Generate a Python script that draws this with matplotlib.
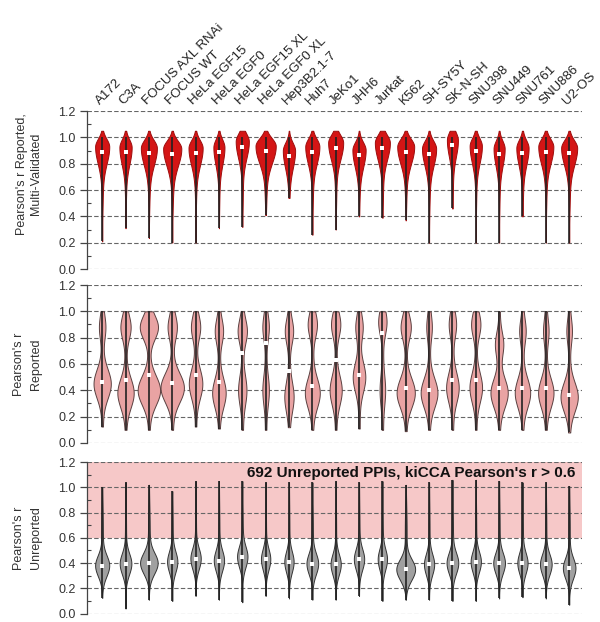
import numpy as np
import matplotlib
matplotlib.use("Agg")
import matplotlib.pyplot as plt
from matplotlib.ticker import MultipleLocator

plt.rcParams['font.family'] = ['Liberation Sans', 'DejaVu Sans']

cell_lines = ["A172", "C3A", "FOCUS AXL RNAi", "FOCUS WT", "HeLa EGF15", "HeLa EGF0",
              "HeLa EGF15 XL", "HeLa EGF0 XL", "Hep3B2.1-7", "Huh7", "JeKo1", "JHH6",
              "Jurkat", "K562", "SH-SY5Y", "SK-N-SH", "SNU398", "SNU449", "SNU761",
              "SNU886", "U2-OS"]

# top panel: reported, multi-validated
mv_median = [0.89, 0.885, 0.88, 0.875, 0.88, 0.885, 0.93, 0.895, 0.86, 0.89, 0.92,
             0.865, 0.92, 0.89, 0.875, 0.94, 0.895, 0.875, 0.88, 0.89, 0.88]
mv_min = [0.21, 0.31, 0.235, 0.20, 0.20, 0.31, 0.32, 0.41, 0.54, 0.26, 0.30,
          0.40, 0.39, 0.37, 0.20, 0.46, 0.20, 0.20, 0.40, 0.20, 0.20]
mv_max = [1.05, 1.05, 1.05, 1.05, 1.05, 1.05, 1.05, 1.05, 1.05, 1.05, 1.05,
          1.05, 1.05, 1.05, 1.05, 1.05, 1.05, 1.05, 1.05, 1.05, 1.05]
mv_width = [0.30, 0.26, 0.34, 0.385, 0.30, 0.235, 0.28, 0.43, 0.26, 0.30, 0.32,
            0.28, 0.32, 0.36, 0.30, 0.235, 0.26, 0.235, 0.26, 0.32, 0.34]

# middle panel: reported
rep_median = [0.465, 0.48, 0.52, 0.455, 0.52, 0.46, 0.68, 0.76, 0.545, 0.43, 0.63,
              0.52, 0.835, 0.415, 0.40, 0.48, 0.48, 0.42, 0.42, 0.42, 0.365]
rep_min = [0.125, 0.10, 0.10, 0.10, 0.125, 0.11, 0.10, 0.10, 0.12, 0.10, 0.10,
           0.11, 0.10, 0.09, 0.10, 0.10, 0.10, 0.10, 0.10, 0.10, 0.08]
rep_max = [1.0, 1.0, 1.0, 1.0, 1.0, 1.0, 1.0, 1.0, 1.0, 1.0, 1.0,
           1.0, 1.0, 1.0, 1.0, 1.0, 1.0, 1.0, 1.0, 1.0, 1.0]
rep_low_peak = [0.45, 0.38, 0.40, 0.42, 0.45, 0.38, 0.40, 0.40, 0.35, 0.38, 0.40,
                0.50, 0.40, 0.38, 0.38, 0.42, 0.42, 0.38, 0.38, 0.38, 0.35]
rep_low_width = [0.34, 0.32, 0.45, 0.47, 0.26, 0.26, 0.15, 0.11, 0.17, 0.29, 0.23,
                 0.24, 0.09, 0.36, 0.33, 0.24, 0.24, 0.34, 0.30, 0.30, 0.34]
rep_high_peak = [0.88, 0.88, 0.88, 0.88, 0.88, 0.85, 0.85, 0.88, 0.85, 0.90, 0.90,
                 0.88, 0.92, 0.88, 0.88, 0.90, 0.90, 0.75, 0.85, 0.85, 0.85]
rep_high_width = [0.11, 0.19, 0.36, 0.17, 0.17, 0.15, 0.17, 0.11, 0.15, 0.17, 0.17,
                  0.13, 0.15, 0.19, 0.09, 0.13, 0.17, 0.15, 0.11, 0.09, 0.09]

# bottom panel: unreported
unrep_median = [0.38, 0.395, 0.40, 0.41, 0.435, 0.42, 0.45, 0.43, 0.41, 0.395, 0.39,
                0.43, 0.43, 0.35, 0.39, 0.40, 0.41, 0.40, 0.40, 0.39, 0.36]
unrep_min = [0.125, 0.04, 0.11, 0.10, 0.14, 0.11, 0.09, 0.14, 0.12, 0.11, 0.11,
             0.14, 0.10, 0.11, 0.11, 0.10, 0.10, 0.12, 0.13, 0.12, 0.07]
unrep_max = [1.00, 1.04, 1.02, 0.97, 1.05, 1.05, 1.05, 1.04, 1.04, 1.04, 1.05,
             1.04, 1.05, 1.02, 1.04, 1.06, 1.06, 1.05, 1.04, 1.04, 1.01]
unrep_width = [0.29, 0.24, 0.36, 0.21, 0.21, 0.21, 0.21, 0.19, 0.19, 0.24, 0.21,
               0.21, 0.19, 0.39, 0.21, 0.24, 0.21, 0.24, 0.21, 0.24, 0.26]

n_unreported = 692
cutoff = 0.6


def bump(y, c, sd_lo, sd_hi=None):
    if sd_hi is None:
        sd_hi = sd_lo
    sd = np.where(y < c, sd_lo, sd_hi)
    return np.exp(-0.5 * ((y - c) / sd) ** 2)


def make_stats(mins, maxs, meds, shape):
    stats = []
    halfw = []
    for i in range(len(mins)):
        y = np.linspace(mins[i], maxs[i], 300)
        v = shape(i, y)
        stats.append({'coords': y, 'vals': v, 'mean': meds[i], 'median': meds[i],
                      'min': mins[i], 'max': maxs[i], 'quantiles': []})
        halfw.append(v.max())
    return stats, np.array(halfw)


def shape_mv(i, y):
    return mv_width[i] * (bump(y, mv_median[i] + 0.04, 0.13, 0.06) + 0.08 * bump(y, 0.6, 0.15))


def shape_rep(i, y):
    return (rep_low_width[i] * bump(y, rep_low_peak[i], 0.11)
            + rep_high_width[i] * bump(y, rep_high_peak[i], 0.09) + 0.03)


def shape_unrep(i, y):
    return unrep_width[i] * (bump(y, unrep_median[i], 0.085, 0.08) + 0.1 * bump(y, 0.65, 0.2))


def style_axis(ax):
    ax.set_xlim(-0.65, 20.55)
    ax.set_ylim(0, 1.2)
    ax.set_yticks(np.arange(0, 1.21, 0.2))
    ax.set_yticklabels(["%.1f" % t for t in np.arange(0, 1.21, 0.2)])
    ax.yaxis.set_minor_locator(MultipleLocator(0.1))
    ax.tick_params(axis='y', which='major', direction='out', length=5, width=0.9,
                   color='#444444', labelsize=9, labelcolor='#333333', pad=3)
    ax.tick_params(axis='y', which='minor', direction='in', length=3, width=0.8,
                   color='#444444')
    for s in ['top', 'right', 'bottom']:
        ax.spines[s].set_visible(False)
    ax.spines['left'].set_color('#444444')
    ax.spines['left'].set_linewidth(0.9)
    ax.grid(axis='y', which='major', ls=(0, (4, 2)), color='#666666', lw=0.8)
    ax.set_axisbelow(True)
    ax.set_xticks([])


def draw(ax, stats, halfw, mins, maxs, meds, face, edge):
    pos = np.arange(len(cell_lines))
    parts = ax.violin(stats, positions=pos, widths=2 * halfw,
                      showmeans=False, showextrema=False, showmedians=False)
    for b in parts['bodies']:
        b.set_facecolor(face)
        b.set_edgecolor(edge)
        b.set_alpha(1)
        b.set_linewidth(0.7)
        b.set_zorder(2)
    ax.vlines(pos, mins, maxs, color='#222222', lw=1.2, zorder=3)
    ax.plot(pos, meds, 's', color='white', ms=3.2, mew=0, zorder=4)


fig = plt.figure(figsize=(6, 6.22), dpi=100)
left, width = 0.145, 0.825
ax1 = fig.add_axes([left, 0.5675, width, 0.254])
ax2 = fig.add_axes([left, 0.2878, width, 0.254])
ax3 = fig.add_axes([left, 0.0135, width, 0.2435])

for ax in (ax1, ax2, ax3):
    style_axis(ax)

st, hw = make_stats(mv_min, mv_max, mv_median, shape_mv)
draw(ax1, st, hw, mv_min, [1.0] * len(mv_max), mv_median, '#d41515', '#9e0d0d')

st, hw = make_stats(rep_min, rep_max, rep_median, shape_rep)
draw(ax2, st, hw, rep_min, rep_max, rep_median, '#e9a3a3', '#5a4040')

ax3.axhspan(cutoff, 1.2, color='#f6c8c8', zorder=0, lw=0)
st, hw = make_stats(unrep_min, unrep_max, unrep_median, shape_unrep)
draw(ax3, st, hw, unrep_min, unrep_max, unrep_median, '#a0a0a0', '#333333')
ax3.text(20.25, 1.115, "%d Unreported PPIs, kiCCA Pearson's r > %.1f" % (n_unreported, cutoff),
         ha='right', va='center', fontsize=11, fontweight='bold', color='#111111', zorder=5)

# cell line names on top
ax1.set_xticks(np.arange(len(cell_lines)))
ax1.xaxis.tick_top()
ax1.set_xticklabels(cell_lines, rotation=45, ha='left', va='bottom',
                    rotation_mode='anchor', fontsize=9.5, color='#222222')
ax1.tick_params(axis='x', length=0, pad=3)

ax1.set_ylabel("Pearson's r Reported,\nMulti-Validated", fontsize=9, color='#333333',
               linespacing=1.2)
ax1.yaxis.set_label_coords(-0.091, 0.6)
ax2.set_ylabel("Pearson's r\nReported", fontsize=9, color='#333333', linespacing=1.5)
ax2.yaxis.set_label_coords(-0.091, 0.5)
ax3.set_ylabel("Pearson's r\nUnreported", fontsize=9, color='#333333', linespacing=1.5)
ax3.yaxis.set_label_coords(-0.091, 0.5)

fig.savefig("out.png", dpi=100)
